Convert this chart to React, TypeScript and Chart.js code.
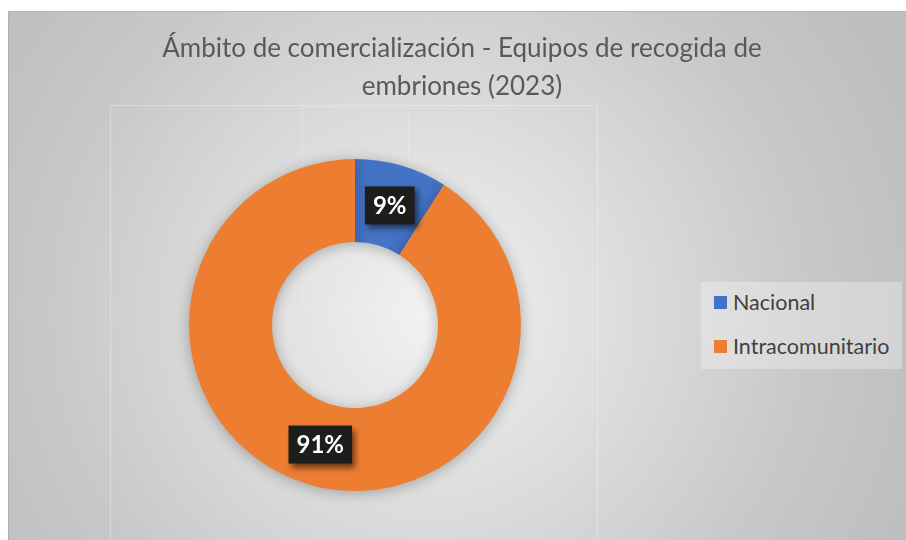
import React, { useEffect, useRef } from "react";
import { Chart, registerables } from "chart.js";

Chart.register(...registerables);

const titleLines = ["Ámbito de comercialización - Equipos de recogida de", "embriones (2023)"];
const categories = ["Nacional", "Intracomunitario"];
const values = [9, 91];
const colors = ["#4472C4", "#ED7D31"];

const FONT = "Lato, 'Open Sans', sans-serif";

const labelPlugin = {
  id: "boxLabels",
  beforeDatasetsDraw(chart: any) {
    const ctx = chart.ctx;
    ctx.save();
    ctx.shadowColor = "rgba(0,0,0,0.28)";
    ctx.shadowBlur = 14;
    ctx.shadowOffsetX = 0;
    ctx.shadowOffsetY = 2;
  },
  afterDatasetsDraw(chart: any) {
    const ctx = chart.ctx;
    ctx.restore();
    const meta = chart.getDatasetMeta(0);
    const data = chart.data.datasets[0].data as number[];
    const total = data.reduce((a, b) => a + b, 0);
    meta.data.forEach((arc: any, i: number) => {
      const pos = arc.tooltipPosition();
      const text = Math.round((data[i] / total) * 100) + "%";
      ctx.save();
      ctx.font = "bold 24px " + FONT;
      const w = ctx.measureText(text).width + 16;
      const h = 38;
      ctx.shadowColor = "rgba(0,0,0,0.55)";
      ctx.shadowBlur = 6;
      ctx.shadowOffsetX = 3;
      ctx.shadowOffsetY = 4;
      ctx.fillStyle = "#1d1d1b";
      ctx.fillRect(pos.x - w / 2, pos.y - h / 2, w, h);
      ctx.shadowColor = "transparent";
      ctx.fillStyle = "#ffffff";
      ctx.textAlign = "center";
      ctx.textBaseline = "middle";
      ctx.fillText(text, pos.x, pos.y + 1);
      ctx.restore();
    });
  },
};

export default function App() {
  const ref = useRef<HTMLCanvasElement>(null);
  useEffect(() => {
    if (!ref.current) return;
    const chart = new Chart(ref.current, {
      type: "doughnut",
      data: {
        labels: categories,
        datasets: [
          {
            data: values,
            backgroundColor: colors,
            borderWidth: 0,
          },
        ],
      },
      options: {
        responsive: false,
        animation: false,
        cutout: "50%",
        layout: { padding: { left: 189, right: 385, top: 159, bottom: 49 } },
        plugins: {
          legend: { display: false },
          tooltip: { enabled: false },
          title: { display: false },
        },
      },
      plugins: [labelPlugin],
    });
    return () => chart.destroy();
  }, []);

  const legendItem = (i: number, top: number) => (
    <div
      style={{
        position: "absolute",
        left: 714,
        top,
        display: "flex",
        alignItems: "center",
        height: 24,
      }}
    >
      <div style={{ width: 13, height: 13, background: colors[i], marginRight: 6 }} />
      <span style={{ fontFamily: FONT, fontSize: 21.5, color: "#404040", lineHeight: "24px" }}>
        {categories[i]}
      </span>
    </div>
  );

  return (
    <div style={{ position: "fixed", left: 0, top: 0, width: 906, height: 540, background: "#ffffff", overflow: "hidden" }}>
      <div
        style={{
          position: "absolute",
          left: 8,
          top: 11,
          width: 898,
          height: 529,
          background: "radial-gradient(circle at 420px 300px, #f2f2f2 0px, #dcdcdc 200px, #c8c8c8 380px, #bebebe 520px)",
          borderTop: "1px solid #b4b4b4",
          borderLeft: "1px solid #b0b0b0",
          boxSizing: "border-box",
        }}
      />
      <div style={{ position: "absolute", left: 110, top: 105, width: 488, height: 440, border: "1px solid rgba(255,255,255,0.3)", boxSizing: "border-box" }} />
      <div style={{ position: "absolute", left: 302, top: 107, width: 107, height: 202, border: "1px solid rgba(255,255,255,0.18)", boxSizing: "border-box" }} />
      <div
        style={{
          position: "absolute",
          left: 701,
          top: 282,
          width: 201,
          height: 87,
          background: "rgba(255,255,255,0.3)",
        }}
      />
      {legendItem(0, 290)}
      {legendItem(1, 334)}
      <canvas ref={ref} width={906} height={540} style={{ position: "absolute", left: 0, top: 0 }} />
      <div
        style={{
          position: "absolute",
          left: 0,
          top: 28,
          width: 924,
          textAlign: "center",
          fontFamily: FONT,
          fontSize: 26,
          lineHeight: "38px",
          color: "#595959",
        }}
      >
        <div>{titleLines[0]}</div>
        <div>{titleLines[1]}</div>
      </div>
    </div>
  );
}
